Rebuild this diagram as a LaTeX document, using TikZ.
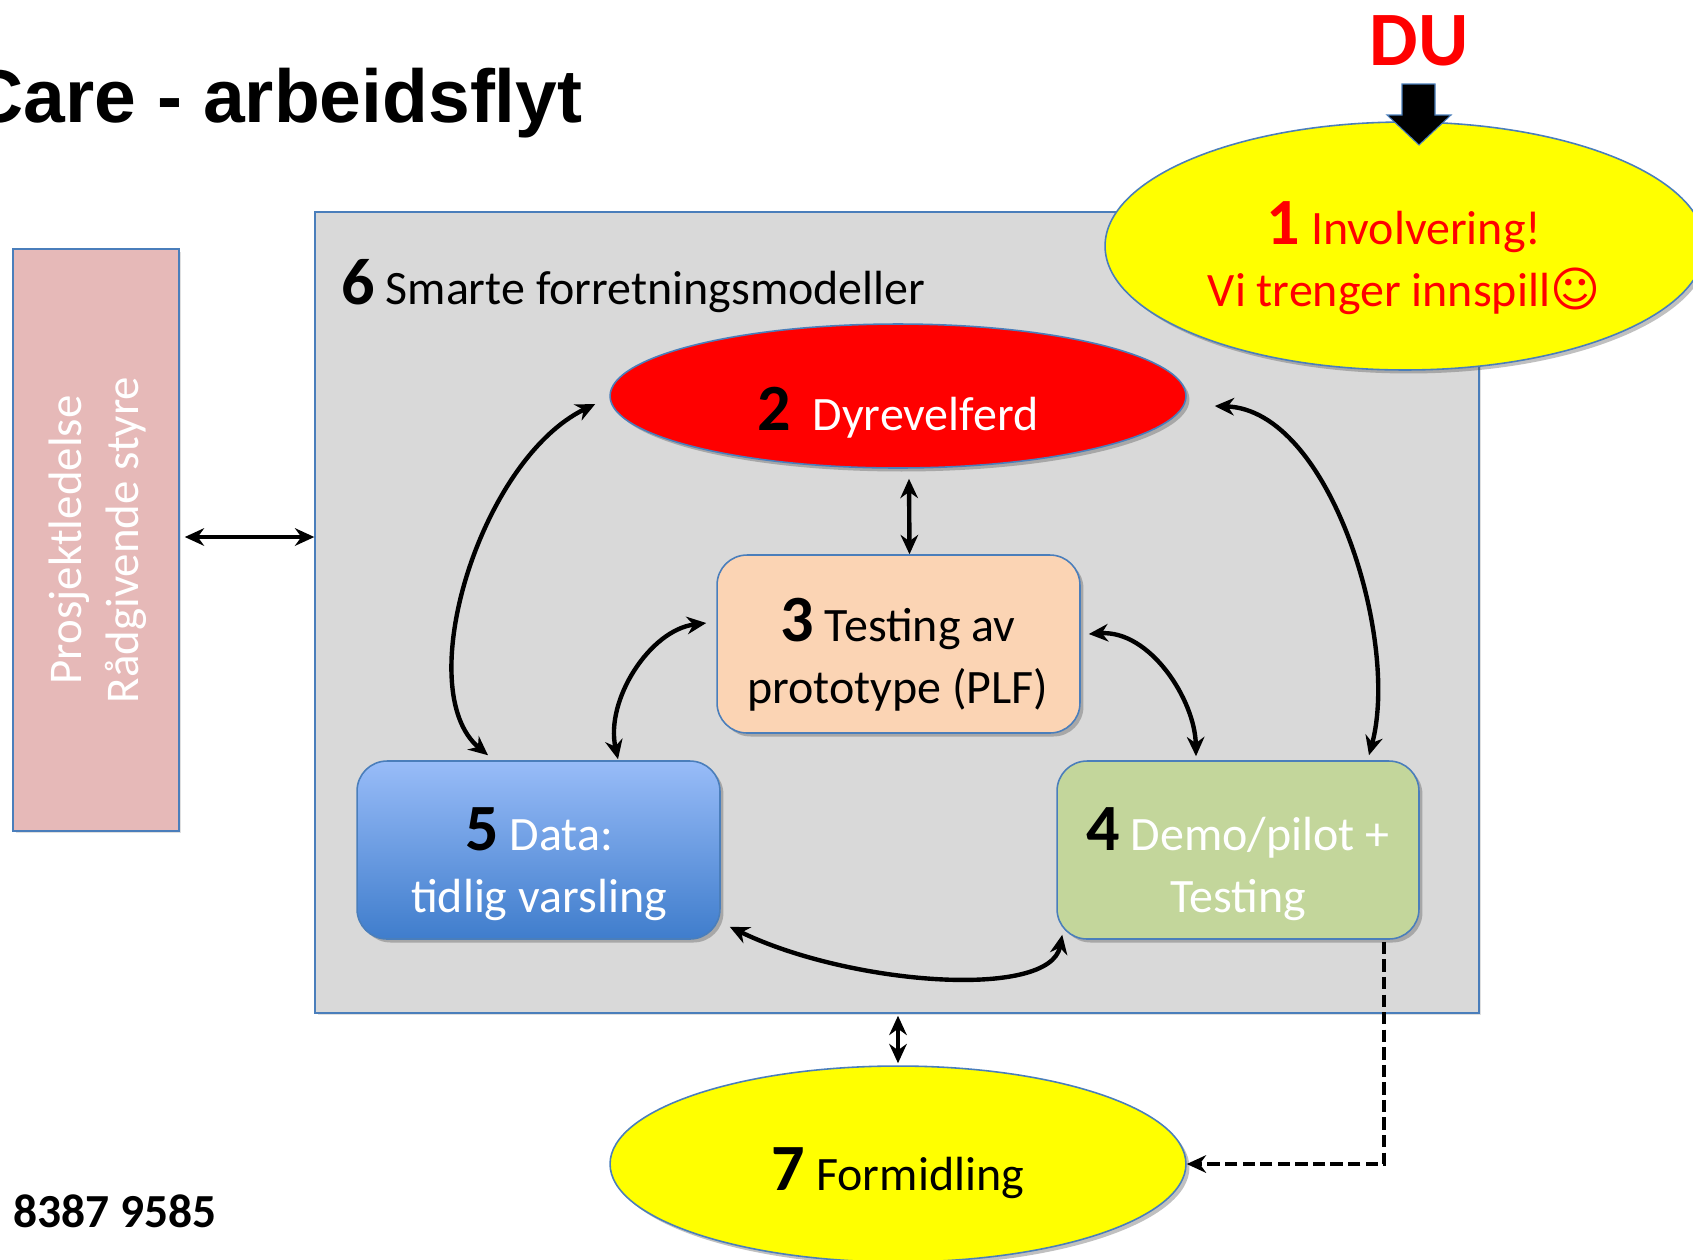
\documentclass[tikz,border=0pt]{standalone}
\usepackage{fontspec}
\setmainfont{Carlito}
\newfontfamily\titlefont{Liberation Sans}
\newfontfamily\symfont{DejaVu Sans}
\usetikzlibrary{arrows.meta,calc,shadows,shapes.geometric}
\definecolor{bord}{HTML}{4A7EBB}
\definecolor{graybg}{HTML}{D9D9D9}
\definecolor{pinkbg}{HTML}{E6B9B8}
\definecolor{peach}{HTML}{FBD4B4}
\definecolor{greenbg}{HTML}{C3D69B}
\definecolor{bluetop}{HTML}{98BCF8}
\definecolor{bluebot}{HTML}{3F7DCC}
\definecolor{yel}{HTML}{FFFF00}
\newcommand{\nm}[1]{{\fontsize{37.6pt}{40pt}\selectfont\bfseries #1}}
\newcommand{\bodyfs}{\fontsize{27.3pt}{35.3pt}\selectfont}
\begin{document}
\begin{tikzpicture}[x=0.02cm,y=-0.02cm,
  bx/.style={draw=bord, line width=0.9pt, inner sep=0pt},
  shd/.style={drop shadow={shadow xshift=0.07cm, shadow yshift=-0.07cm, opacity=0.35, fill=black!70}},
  rbox/.style={bx, shd, rounded corners=0.6cm, minimum width=7.26cm, minimum height=3.56cm},
  ell/.style={bx, shd, ellipse},
  txt/.style={align=center, font=\bodyfs, inner sep=0pt},
  arr/.style={line width=2.5pt, {Stealth[length=11pt,width=10pt]}-{Stealth[length=11pt,width=10pt]}},
  dasharr/.style={line width=2.3pt, dash pattern=on 7pt off 3pt, -{Stealth[length=11pt,width=10pt]}}]
\useasboundingbox (0,0) rectangle (1693,1259);
\clip (0,0) rectangle (1693,1259);
\fill[white] (0,0) rectangle (1693,1259);

% title
\node[anchor=base east, inner sep=0pt, font=\titlefont\bfseries\fontsize{42.7pt}{45pt}\selectfont] (title) at (583,122) {Care - arbeidsflyt};

% main grey area
\node[bx, fill=graybg, minimum width=23.28cm, minimum height=16.02cm, drop shadow={shadow xshift=0.05cm, shadow yshift=-0.05cm, opacity=0.25}] (g6) at (897,612.5) {};
\node[anchor=base west, inner sep=0pt, font=\bodyfs] (t6) at (341,304) {\nm{6} Smarte forretningsmodeller};

% pink side box
\node[bx, fill=pinkbg, minimum width=3.32cm, minimum height=11.64cm, drop shadow={shadow xshift=0.05cm, shadow yshift=-0.05cm, opacity=0.25}] (pink) at (96,540) {};
\node[rotate=90, align=center, text=white, inner sep=0pt, font=\fontsize{26.7pt}{32.4pt}\selectfont] (pinkt) at (98,540) {Prosjektledelse\\Rådgivende styre};

% 2 Dyrevelferd
\node[ell, fill=red, minimum width=11.52cm, minimum height=2.88cm] (e2) at (898,396) {};
\node[txt, text=white] (t2) at (898,413) {\textcolor{black}{\nm{2}}\hspace{0.45em}Dyrevelferd};

% 3 Testing av prototype
\node[rbox, fill=peach] (b3) at (898.5,644) {};
\node[txt, text=black] (t3) at (898,655) {\nm{3} Testing av\\prototype (PLF)};

% 5 Data
\node[rbox, top color=bluetop, bottom color=bluebot] (b5) at (538.5,850) {};
\node[txt, text=white] (t5) at (539,864) {\textcolor{black}{\nm{5}} Data:\\tidlig varsling};

% 4 Demo/pilot
\node[rbox, fill=greenbg, minimum width=7.24cm] (b4) at (1238,850) {};
\node[txt, text=white] (t4) at (1238,864) {\textcolor{black}{\nm{4}} Demo/pilot +\\Testing};

% 7 Formidling
\node[ell, fill=yel, minimum width=11.52cm, minimum height=3.92cm] (e7) at (898,1164) {};
\node[txt, text=black] (t7) at (898,1173) {\nm{7} Formidling};

% 1 Involvering
\node[ell, fill=yel, minimum width=12cm, minimum height=4.96cm] (e1) at (1405,246) {};
\node[txt, text=red] (t1) at (1404,258) {\nm{1} Involvering!\\Vi trenger innspill{\symfont☺}};

% DU
\node[anchor=base, inner sep=0pt, text=red, font=\bfseries\fontsize{43.8pt}{46pt}\selectfont] (du) at (1419,65) {DU};
\draw[draw=bord, fill=black, line width=0.6pt] (1402,84) -- (1435,84) -- (1435,115) -- (1451,115) -- (1419,145) -- (1387,115) -- (1402,115) -- cycle;

% connectors
\draw[arr] ($(pink.east)+(5,-3)$) -- ($(pink.east -| g6.west)+(0,-3)$);
\draw[arr] ($(e2.south)+(11,10)$) -- ($(b3.north)+(11,0)$);
\draw[arr] ($(g6.south)+(1,2)$) -- ($(e7.north)+(0,-2)$);
\draw[arr] ($(e2.west)+(-14,8)$) .. controls (480,460) and (410,690) .. ($(b5.north)+(-50.5,-5)$);
\draw[arr] ($(e2.east)+(28,10)$) .. controls (1330,410) and (1400,640) .. ($(b4.north)+(131,-5)$);
\draw[arr] ($(b3.west)+(-10,-21)$) .. controls (650,630) and (605,700) .. ($(b5.north)+(79.5,-1)$);
\draw[arr] ($(b3.east)+(8,-10)$) .. controls (1150,630) and (1195,700) .. ($(b4.north)+(-42,-4)$);
\draw[arr] ($(b5.south east)+(9,-13)$) .. controls (850,985) and (1050,1000) .. ($(b4.south west)+(6,-5)$);
\draw[dasharr] ($(b4.south)+(146,2)$) |- (e7.east);

% phone
\node[anchor=base west, inner sep=0pt, font=\bfseries\fontsize{27pt}{30pt}\selectfont] (phone) at (13,1227) {8387 9585};
\end{tikzpicture}
\end{document}
